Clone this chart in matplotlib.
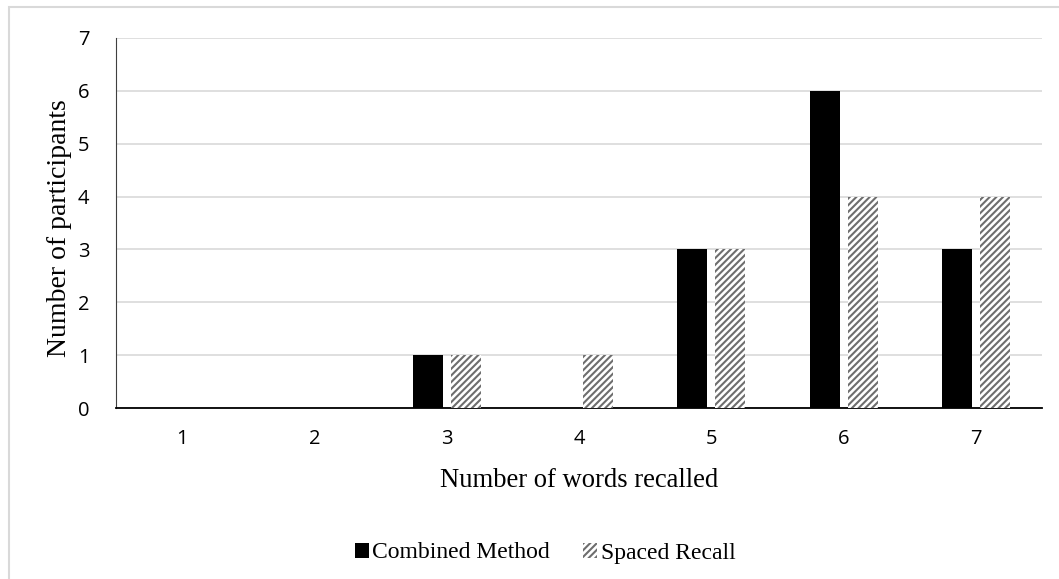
import numpy as np
import matplotlib.pyplot as plt
from matplotlib.patches import Rectangle

words = [1, 2, 3, 4, 5, 6, 7]
combined = [0, 0, 1, 0, 3, 6, 3]
spaced = [0, 0, 1, 1, 3, 4, 4]

plt.rcParams['hatch.linewidth'] = 1.5
plt.rcParams['hatch.color'] = '#6e6e6e'

fig = plt.figure(figsize=(10.59, 5.79), dpi=100)
ax = fig.add_axes([0.1095, 0.2953, 0.8745, 0.6391])

# light frame round the chart area
fig.patches.append(Rectangle((9 / 1059, -0.1), 1.2, 1.1 - 7 / 579,
                             transform=fig.transFigure, fill=False,
                             edgecolor='#d9d9d9', linewidth=1.5))

x = np.arange(len(words))
w = 0.227
ax.bar(x - 0.144, combined, w, color='black', label='Combined Method', zorder=3)
ax.bar(x + 0.144, spaced, w, color='white', hatch='/////', edgecolor='#6e6e6e',
       linewidth=0, label='Spaced Recall', zorder=3)

ax.set_xlim(-0.5, len(words) - 0.5)
ax.set_ylim(0, 7)
ax.set_yticks(range(8))
ax.set_xticks(x)
ax.set_xticklabels(words)

ax.grid(axis='y', color='#d9d9d9', linewidth=1.2, zorder=0)
ax.tick_params(length=0, labelsize=14.5)
ax.tick_params(axis='y', pad=19)
ax.tick_params(axis='x', pad=15)
for lab in ax.get_xticklabels() + ax.get_yticklabels():
    lab.set_family('Open Sans')

for s in ['top', 'right']:
    ax.spines[s].set_visible(False)
ax.spines['left'].set_color('#404040')
ax.spines['left'].set_linewidth(0.8)
ax.spines['bottom'].set_linewidth(1.3)

ax.set_ylabel('Number of participants', family='Liberation Serif', fontsize=20)
ax.set_xlabel('Number of words recalled', family='Liberation Serif', fontsize=19.2)
ax.yaxis.set_label_coords(-0.0475, 0.486)
ax.xaxis.set_label_coords(0.5, -0.162)

fig.legend(loc='center', bbox_to_anchor=(545 / 1059, 1 - 553 / 579), ncol=2, frameon=False,
           prop={'family': 'Liberation Serif', 'size': 17}, handlelength=0.6, handleheight=0.6,
           handletextpad=0.15, columnspacing=1.4)

plt.savefig('out.png', dpi=100)
